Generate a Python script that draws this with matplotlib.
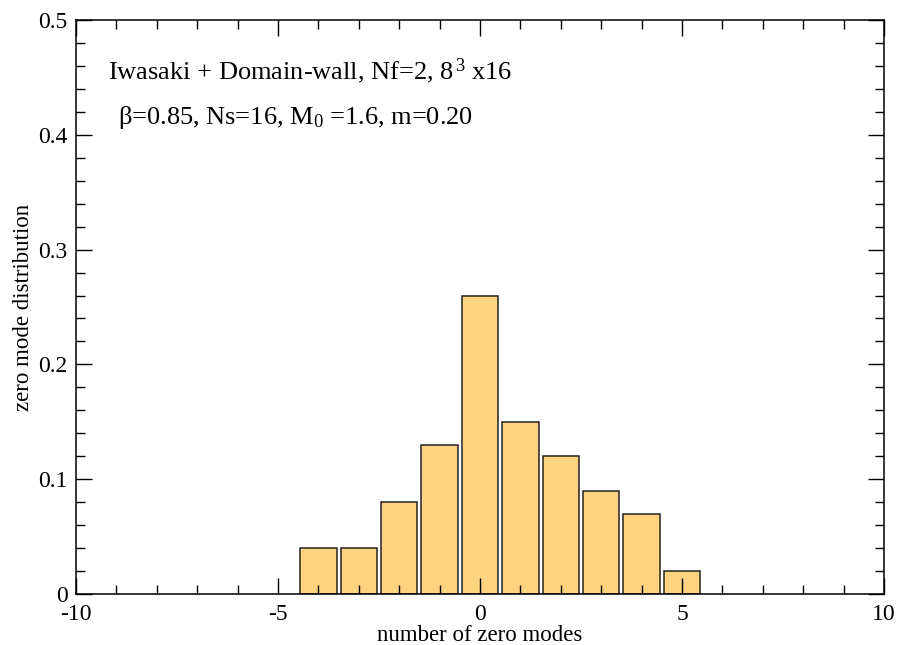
import numpy as np
import matplotlib
matplotlib.use('Agg')
import matplotlib.pyplot as plt
from matplotlib.ticker import MultipleLocator

plt.rcParams['font.family'] = ['Liberation Serif', 'DejaVu Serif']
plt.rcParams['mathtext.fontset'] = 'custom'
plt.rcParams['mathtext.rm'] = 'Liberation Serif'
plt.rcParams['mathtext.it'] = 'Liberation Serif:italic'
plt.rcParams['axes.unicode_minus'] = False

# zero mode histogram
modes = [-4, -3, -2, -1, 0, 1, 2, 3, 4, 5]
dist = [0.04, 0.04, 0.08, 0.13, 0.26, 0.15, 0.12, 0.09, 0.07, 0.02]

fig = plt.figure(figsize=[9, 6.45], dpi=100)
ax = fig.add_axes([76/900, 1 - 594/645, 808/900, 574/645])

ax.bar(modes, dist, 0.9, fc='#FFD380', ec='#222222', lw=1.1, zorder=1)

ax.set_xlim(-10, 10)
ax.set_ylim(0, 0.5)
ax.xaxis.set_major_locator(MultipleLocator(5))
ax.xaxis.set_minor_locator(MultipleLocator(1))
ax.yaxis.set_major_locator(MultipleLocator(0.1))
ax.yaxis.set_minor_locator(MultipleLocator(0.02))
ax.yaxis.set_major_formatter(plt.FuncFormatter(lambda v, p: '0' if v == 0 else '%.1f' % v))
ax.tick_params(which='both', direction='in', top=True, right=True, labelsize=17, zorder=5)
ax.tick_params(which='major', length=11.5, width=1)
ax.tick_params(which='minor', length=6.5, width=1)
ax.tick_params(axis='x', pad=7)
ax.tick_params(axis='y', pad=6)
for s in ax.spines.values():
    s.set_linewidth(1.1)
    s.set_zorder(5)

ax.set_xlabel('number of zero modes', fontsize=16.5, labelpad=0)
ax.set_ylabel('zero mode distribution', fontsize=16.5, labelpad=3)

ax.text(0.04, 0.91, r'Iwasaki + Domain-wall, Nf=2, 8$^{\,3}$ x16', transform=ax.transAxes,
        fontsize=19, va='center')
ax.text(0.052, 0.83, r'$\mathrm{\beta}$=0.85, Ns=16, M$_0$ =1.6, m=0.20', transform=ax.transAxes,
        fontsize=19, va='center')

plt.savefig('out.png', dpi=100)
